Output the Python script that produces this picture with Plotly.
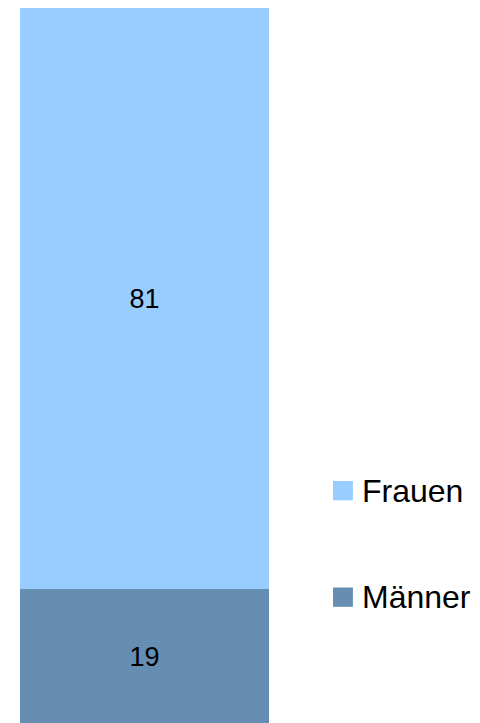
import plotly.graph_objects as go

categories = [""]
series_names = ["Männer", "Frauen"]
maenner = [19]
frauen = [81]
colors = ["#668EB2", "#99CCFF"]

fig = go.Figure()

for name, values, color in zip(series_names, [maenner, frauen], colors):
    fig.add_trace(
        go.Bar(
            x=categories,
            y=values,
            name=name,
            marker=dict(color=color, line=dict(width=0)),
            text=[str(v) for v in values],
            textposition="inside",
            insidetextanchor="middle",
            textfont=dict(color="black", size=27),
            showlegend=False
        )
    )

# legend drawn by hand (bigger swatches than plotly's own)
legend_y = {"Frauen": 0.325, "Männer": 0.176}
for name, color in zip(series_names, colors):
    yc = legend_y[name]
    fig.add_shape(
        type="rect",
        xref="paper", yref="paper",
        x0=1.257, x1=1.337,
        y0=yc - 0.0135, y1=yc + 0.0135,
        fillcolor=color,
        line=dict(width=0)
    )
    fig.add_annotation(
        xref="paper", yref="paper",
        x=1.365, y=yc,
        text=name,
        showarrow=False,
        xanchor="left", yanchor="middle",
        font=dict(size=32, color="black")
    )

fig.update_layout(
    barmode="stack",
    bargap=0,
    width=480,
    height=723,
    margin=dict(l=12, r=219, t=0, b=8),
    paper_bgcolor="white",
    plot_bgcolor="white",
    font=dict(family="Liberation Sans, Arial, sans-serif"),
    xaxis=dict(visible=False, range=[-0.5, 0.5]),
    yaxis=dict(visible=False, range=[0.32, 100])
)

fig.write_html("out.html")
